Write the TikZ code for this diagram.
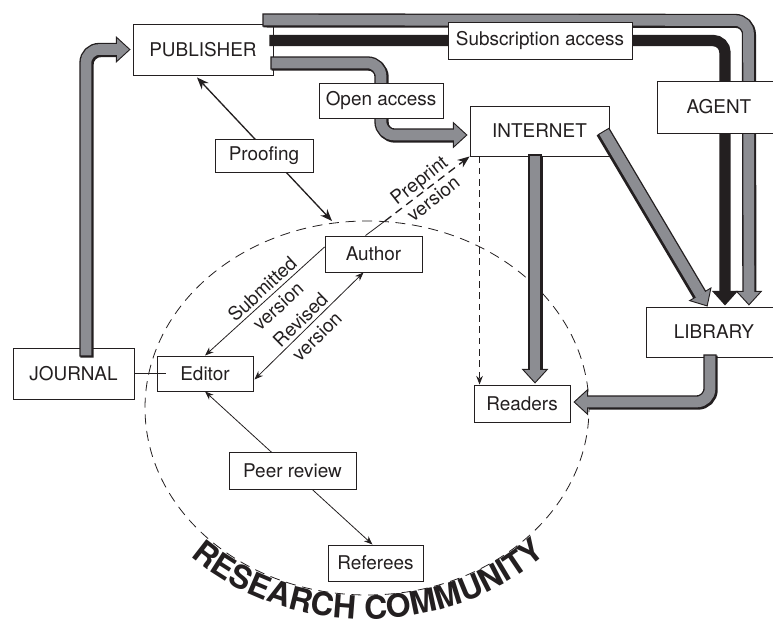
\documentclass[tikz,border=0pt]{standalone}
\usepackage{fontspec}
\setmainfont{TeX Gyre Heros}
\usetikzlibrary{arrows.meta,calc,decorations.text}
\definecolor{fatgray}{RGB}{140,141,146}
\definecolor{ink}{RGB}{35,31,32}
\tikzset{
  box/.style={draw=ink, line width=0.7pt, fill=white, inner sep=0pt, text=ink, align=center},
  thinline/.style={draw=ink, line width=0.6pt},
  sarr/.style={-{Stealth[length=6.5pt,width=5pt]}},
  dsarr/.style={{Stealth[length=6.5pt,width=5pt]}-{Stealth[length=6.5pt,width=5pt]}},
  fatshadow/.style={draw=ink, line width=10pt, rounded corners=10pt, shorten >=11pt},
  fatout/.style={draw=ink, line width=10pt, rounded corners=10pt,
    -{Triangle[length=11pt 0, width=20pt 0, fill=fatgray, line width=0.7pt 0]}},
  fatin/.style={draw=fatgray, line width=8pt, rounded corners=10pt, shorten >=10pt, shorten <=0.8pt},
  blackband/.style={draw=ink, line width=8.5pt, rounded corners=9pt,
    -{Triangle[length=11pt 0, width=19pt 0]}},
  lbl/.style={text=ink, align=center, inner sep=0pt, font=\fontsize{14.2}{17.5}\selectfont}
}
\newcommand\fatarr[2][{0.8pt,-0.8pt}]{%
  \begin{scope}[transform canvas={shift={(#1)}}]\draw[fatshadow] #2;\end{scope}
  \draw[fatout] #2;
  \draw[fatin] #2;}
\begin{document}
\begin{tikzpicture}[x=0.75pt, y=0.75pt, font=\fontsize{14.2}{17}\selectfont]
\useasboundingbox (0,0) rectangle (773,-627);

% main boxes
\node[box, minimum width=105pt, minimum height=38.25pt] (pub) at (203,-49.5) {PUBLISHER};
\node[box, minimum width=104.25pt, minimum height=37.5pt] (inet) at (539.5,-131) {INTERNET};
\node[box, minimum width=102pt, minimum height=37.5pt] (lib) at (714,-332) {LIBRARY};
\node[box, minimum width=90.75pt, minimum height=38.25pt] (journal) at (73.5,-373.5) {JOURNAL};
\node[box, minimum width=72pt, minimum height=27.75pt] (readers) at (522,-403.5) {Readers};
\node[box, minimum width=72.75pt, minimum height=27pt] (author) at (373.5,-254) {Author};
\node[box, minimum width=72pt, minimum height=26.25pt] (editor) at (205,-373.5) {Editor};
\node[box, minimum width=71.25pt, minimum height=27pt] (ref) at (375.5,-563) {Referees};

% research community circle
\draw[draw=ink, line width=0.6pt, dash pattern=on 7.5pt off 5pt] (367,-408) ellipse [x radius=222, y radius=187];

% thin connectors
\coordinate (pc) at (332,-221);
\coordinate (pp) at (385,-221);
\draw[draw=ink, line width=1pt, {Stealth[length=9pt,width=7pt]}-{Stealth[length=9pt,width=7pt]}]
  ($(pub.south)+(-6,-2)$) -- (pc);
\draw[thinline, sarr] ($(author.west)+(0,7)$) -- (editor.north);
\draw[thinline, dsarr] ($(editor.east)+(1,-6)$) -- ($(author.south)+(-10,0)$);
\draw[thinline, dsarr] (editor.south) -- ($(ref.north)+(-3,0)$);
\draw[thinline] ($(author.north)+(-8,0)$) -- (pp);
\draw[draw=ink, line width=1pt, dash pattern=on 6pt off 4pt, -{Stealth[length=9pt,width=7pt]}] (pp) -- (inet.south west);
\draw[thinline, dash pattern=on 5pt off 3.5pt, sarr] ($(inet.south west)+(10,0)$) -- ($(readers.north west)+(6,0)$);

% fat arrows
\fatarr{($(journal.north)+(12.5,-9)$) -- (86,-49.5) -- ($(pub.west)+(-2,0)$)}
\fatarr{($(pub.east)+(-3,-13.5)$) -- (381,-63) -- (381,-135) -- ($(inet.west)+(-2,-4)$)}
\fatarr[{0.6pt,-0.6pt}]{($(pub.north east)+(-11,3.5)$) -- (748.5,-20.5) -- ($(lib.north east)+(-33.5,1)$)}
\draw[blackband] ($(pub.east)+(-4,9)$) -- (725,-40.5) -- ($(lib.north)+(11,1)$);
\fatarr{($(inet.south)+(-4.5,2)$) -- ($(readers.north)+(13,1)$)}
\fatarr[{-0.8pt,-0.8pt}]{($(inet.east)+(-6,0)$) -- ($(lib.north west)+(62,0)$)}
\fatarr{($(lib.south)+(-4,3)$) -- (710,-402) -- ($(readers.east)+(3,1.5)$)}

% label boxes
\node[box, minimum width=93pt, minimum height=26.25pt] (oa) at (381,-100.5) {Open access};
\node[box, minimum width=138pt, minimum height=27.75pt] (sub) at (540,-40.5) {Subscription access};
\node[box, minimum width=93pt, minimum height=39pt] (agent) at (719,-107) {AGENT};
\node[box, minimum width=73.5pt, minimum height=24.75pt] (proof) at (264,-155.5) {Proofing};
\node[box, minimum width=95.25pt, minimum height=27.75pt] (peer) at (292.5,-470.5) {Peer review};

% journal - editor link
\draw[thinline] (journal.east) -- ($(editor.west)+(9,0)$);

% rotated labels
\node[lbl, rotate=42.5] (lsub) at (270,-297.5) {Submitted\\version};
\node[lbl, rotate=44.7] (lrev) at (308.5,-328) {Revised\\version};
\node[lbl, rotate=38] (lpre) at (426,-189.5) {Preprint\\version};

% research community text
\path[decorate, decoration={text along path, text align=center,
  text color=ink,
  text={|\fontsize{24}{24}\selectfont\bfseries|RESEARCH COMMUNITY}}]
  (367,-406) ++(213:249 and 213) arc[start angle=213, end angle=328, x radius=249, y radius=213];
\end{tikzpicture}
\end{document}
